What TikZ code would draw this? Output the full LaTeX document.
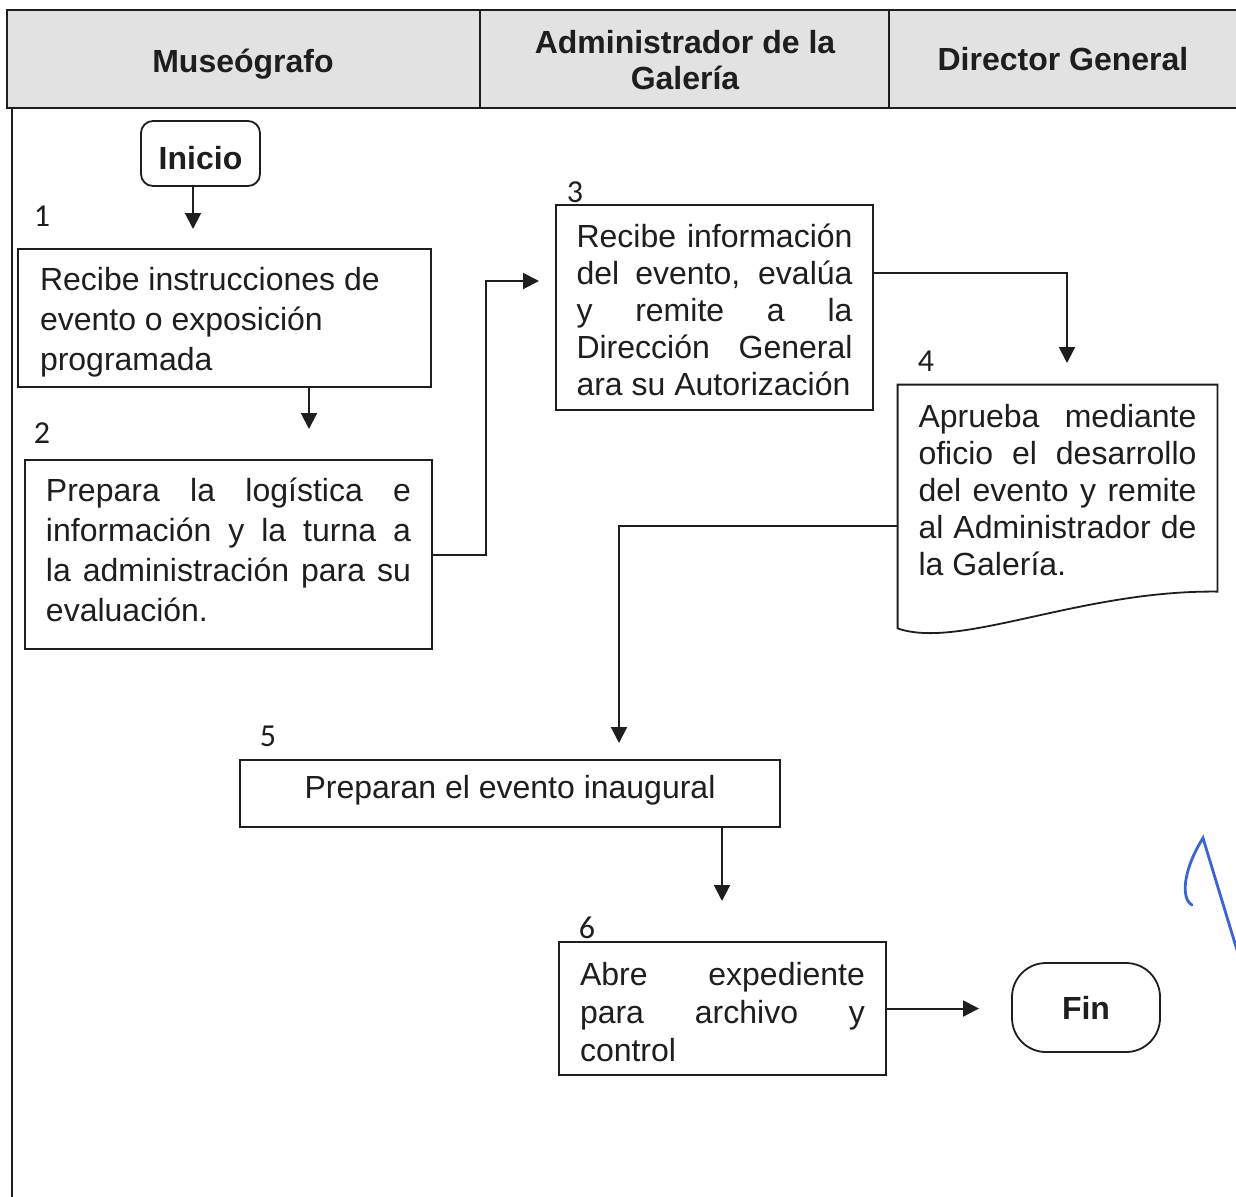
\documentclass[tikz,border=0pt]{standalone}
\usepackage{fontspec}
\setmainfont{Liberation Sans}
\newfontfamily\numfont{Carlito}
\usetikzlibrary{arrows.meta}
\definecolor{ink}{HTML}{1E1E1E}
\definecolor{hdr}{HTML}{E2E2E2}
\definecolor{pen}{HTML}{3B62D8}
\newcommand\shiftpar[3]{\raisebox{#1}[\height][\depth]{\parbox{#2}{#3}}}
\newcommand\shiftline[2]{\raisebox{#1}[\height][\depth]{#2}}
\begin{document}
\begin{tikzpicture}[x=0.5pt,y=-0.5pt,
  every node/.style={inner sep=0pt, text=ink},
  stepbox/.style={draw=ink, rectangle, line width=0.9pt, inner sep=0pt,
    font=\fontsize{16}{20}\selectfont},
  arr/.style={draw=ink, line width=1pt, -{Triangle[length=8pt,width=8pt]}},
  num/.style={font=\numfont\fontsize{16}{19}\selectfont},
  term/.style={draw=ink, line width=0.9pt, rounded corners=6pt, font=\bfseries\fontsize{16}{19}\selectfont},
  hfont/.style={font=\bfseries\fontsize{16}{18}\selectfont}
]
\useasboundingbox (0,0) rectangle (1236,1196);
\clip (0,0) rectangle (1236,1196);
\fill[white] (0,0) rectangle (1236,1196);
% header
\fill[hdr] (7,10) rectangle (1240,108);
\draw[ink, line width=0.9pt] (1240,10) -- (7,10) -- (7,108) -- (1240,108);
\draw[ink, line width=0.7pt] (480,10) -- (480,108);
\draw[ink, line width=0.7pt] (889,10) -- (889,108);
\draw[ink, line width=0.9pt] (12,108) -- (12,1200);
\node[hfont] (h1) at (243,64) {Museógrafo};
\node[hfont, align=center] (h2) at (685,60) {Administrador de la\\Galería};
\node[hfont] (h3) at (1063,59) {Director General};
% terminals
\node[term, minimum width=59.5pt, minimum height=32.5pt] (ini) at (200.5,153.5) {\shiftline{-2.5pt}{Inicio}};
\node[term, rounded corners=17pt, minimum width=74pt, minimum height=44.5pt] (fin) at (1086,1007.5) {Fin};
% step boxes
\node[stepbox, minimum width=206.5pt, minimum height=69pt] (b1) at (224.5,318)
  {\shiftpar{-2pt}{184.5pt}{\raggedright Recibe instrucciones de\\evento o exposición\\programada}};
\node[stepbox, minimum width=203.5pt, minimum height=94.5pt] (b2) at (228.5,554.5)
  {\shiftpar{2.5pt}{182.5pt}{Prepara la logística e\linebreak información y la turna a\linebreak la administración para su\linebreak evaluación.}};
\node[stepbox, font=\fontsize{16}{18.5}\selectfont, minimum width=158.5pt, minimum height=102.5pt] (b3) at (714.5,307.5)
  {\shiftpar{-1pt}{138pt}{Recibe información\linebreak del evento, evalúa\linebreak y remite a la\linebreak Dirección General\linebreak ara su Autorización}};
\node[minimum width=159.5pt, minimum height=121.5pt] (d4) at (1057.5,506.5) {};
\draw[ink, line width=0.9pt] (d4.south west) -- (d4.north west) -- (d4.north east) -- ++(0,207)
  .. controls (1080,590) and (960,650) .. (d4.south west) -- cycle;
\node[font=\fontsize{16}{18.5}\selectfont, text width=139pt, align=justify] (d4t) at (1057.5,490)
  {Aprueba mediante\linebreak oficio el desarrollo\linebreak del evento y remite\linebreak al Administrador de\linebreak la Galería.};
\node[stepbox, minimum width=270pt, minimum height=33.5pt] (b5) at (510,793.5)
  {\shiftline{1.5pt}{Preparan el evento inaugural}};
\node[stepbox, font=\fontsize{16}{19}\selectfont, minimum width=163.5pt, minimum height=66.5pt] (b6) at (722.5,1008.5)
  {\shiftpar{-2pt}{142.5pt}{Abre expediente\linebreak para archivo y\linebreak control}};
% numbers
\node[num] (n1) at (42,216) {1};
\node[num] (n2) at (42,433) {2};
\node[num] (n3) at (575,192) {3};
\node[num] (n4) at (926,361) {4};
\node[num] (n5) at (268,736) {5};
\node[num] (n6) at (587,928) {6};
% connector tips
\coordinate (t1) at (193,229);
\coordinate (t2) at (309,429);
\coordinate (t3) at (539,281);
\coordinate (t4) at (1067,363);
\coordinate (t5) at (619,743);
\coordinate (t6) at (722,901);
\coordinate (t7) at (979,1008.5);
\draw[arr] (ini.south -| t1) -- (t1);
\draw[arr] (b1.south -| t2) -- (t2);
\draw[arr] (b2.east) -- ++(53,0) |- (t3);
\draw[arr] (b3.east |- 0,273) -| (t4);
\draw[arr] (d4.west |- 0,526) -| (t5);
\draw[arr] (b5.south -| t6) -- (t6);
\draw[arr] (b6.east) -- (t7);
% pen mark
\draw[pen, line width=1.4pt, line cap=round] (1192,905) .. controls (1180,898) and (1184,868) .. (1203,838) -- (1240,960);
\end{tikzpicture}
\end{document}
